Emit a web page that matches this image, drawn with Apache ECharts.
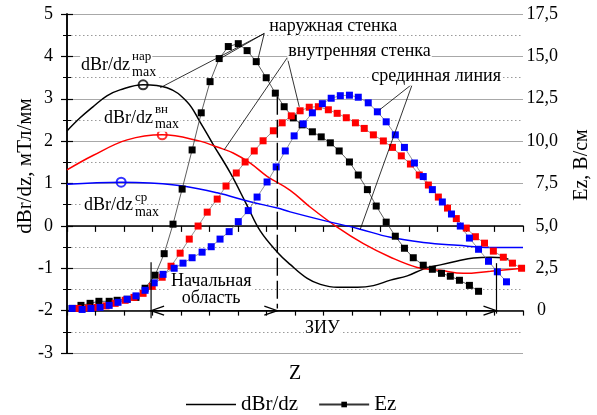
<!DOCTYPE html>
<html>
<head>
<meta charset="utf-8">
<script src="https://cdn.jsdelivr.net/npm/echarts/dist/echarts.min.js"></script>
<style>
  html, body { margin: 0; padding: 0; background: #fff; }
  #main { width: 597px; height: 415px; }
</style>
</head>
<body>
<div id="main"></div>
<script>
// Axis ranges and tick labels
const zRange = [0, 16];
const gradRange = [-3, 5];      // dBr/dz, мТл/мм
const fieldRange = [-2.5, 17.5]; // Ez, В/см

// dBr/dz curves (left axis): z positions and values
const outerCurveZ = [0, 0.46, 0.91, 1.40, 1.86, 2.67, 3.51, 4.21, 4.67, 5.13, 5.73, 6.32, 6.78, 7.38, 7.83, 8.43, 8.89, 9.48, 10.19, 10.75, 11.35, 11.94, 12.50, 13.10, 13.70, 14.26, 14.86, 15.31, 15.49];
const outerCurveV = [2.24, 2.55, 2.81, 3.07, 3.21, 3.33, 3.26, 2.93, 2.45, 1.92, 1.25, 0.48, -0.12, -0.62, -0.91, -1.24, -1.38, -1.45, -1.45, -1.41, -1.28, -1.18, -1.02, -0.92, -0.83, -0.76, -0.74, -0.75, -0.79];

const innerCurveZ = [0, 0.91, 2.11, 3.34, 4.67, 5.27, 5.83, 6.43, 7.02, 7.83, 8.54, 9.48, 10.40, 11.35, 12.29, 13.10, 13.91, 14.86, 16.0];
const innerCurveV = [1.32, 1.66, 2.03, 2.15, 2.00, 1.86, 1.72, 1.48, 1.17, 0.84, 0.44, -0.03, -0.42, -0.74, -0.98, -1.05, -1.12, -1.07, -1.00];

const midCurveZ = [0, 1.90, 2.92, 4.07, 5.27, 6.43, 7.38, 7.83, 8.99, 10.19, 11.35, 12.50, 13.70, 14.86, 16.0];
const midCurveV = [0.98, 1.03, 1.01, 0.94, 0.78, 0.57, 0.42, 0.33, 0.13, -0.06, -0.27, -0.39, -0.46, -0.51, -0.51];

// Maxima of dBr/dz (outer, inner, middle)
const peakZ = [2.67, 3.34, 1.90];
const peakV = [3.33, 2.15, 1.03];

// Ez measurements (right axis)
const outerEzZ = [0.18, 0.49, 0.81, 1.12, 1.48, 1.76, 2.11, 2.42, 2.74, 3.09, 3.41, 3.72, 4.04, 4.39, 4.71, 5.02, 5.34, 5.66, 6.01, 6.32, 6.64, 6.99, 7.31, 7.62, 7.94, 8.25, 8.61, 8.92, 9.24, 9.55, 9.91, 10.22, 10.54, 10.85, 11.20, 11.52, 11.84, 12.15, 12.50, 12.82, 13.14, 13.45, 13.77, 14.12, 14.44];
const outerEzV = [0.13, 0.31, 0.43, 0.55, 0.55, 0.61, 0.67, 0.78, 1.32, 2.09, 3.36, 5.10, 7.17, 9.48, 11.67, 13.51, 14.87, 15.58, 15.75, 15.34, 14.69, 13.74, 12.83, 12.03, 11.37, 10.96, 10.55, 10.25, 9.90, 9.42, 8.77, 8.00, 7.14, 6.17, 5.22, 4.39, 3.68, 3.12, 2.68, 2.44, 2.20, 2.03, 1.79, 1.49, 1.14];

const innerEzZ = [0.39, 0.74, 1.05, 1.37, 1.69, 2.04, 2.35, 2.67, 2.99, 3.34, 3.65, 3.97, 4.29, 4.60, 4.92, 5.27, 5.58, 5.94, 6.25, 6.57, 6.88, 7.24, 7.55, 7.87, 8.18, 8.50, 8.82, 9.17, 9.48, 9.80, 10.12, 10.43, 10.75, 11.10, 11.42, 11.73, 12.05, 12.36, 12.68, 13.03, 13.35, 13.66, 14.01, 14.33, 14.65, 14.96, 15.31, 15.63, 15.95];
const innerEzV = [0.13, 0.16, 0.19, 0.28, 0.43, 0.61, 0.78, 1.02, 1.43, 1.97, 2.62, 3.39, 4.22, 4.99, 5.81, 6.58, 7.35, 8.12, 8.77, 9.42, 10.02, 10.61, 11.08, 11.49, 11.79, 12.00, 12.03, 11.85, 11.64, 11.38, 11.08, 10.75, 10.37, 10.01, 9.63, 9.13, 8.65, 8.00, 7.41, 6.70, 6.05, 5.43, 4.87, 4.36, 3.98, 3.51, 3.15, 2.80, 2.50];

const midEzZ = [0.18, 0.53, 0.84, 1.16, 1.48, 1.79, 2.11, 2.42, 2.74, 3.06, 3.37, 3.76, 4.07, 4.39, 4.74, 5.06, 5.37, 5.69, 6.01, 6.36, 6.67, 7.02, 7.34, 7.66, 7.97, 8.29, 8.61, 8.96, 9.27, 9.59, 9.91, 10.22, 10.57, 10.89, 11.20, 11.52, 11.84, 12.19, 12.50, 12.82, 13.17, 13.49, 13.80, 14.12, 14.44, 14.79, 15.10, 15.42];
const midEzV = [0.13, 0.07, 0.13, 0.19, 0.31, 0.49, 0.67, 0.87, 1.20, 1.64, 2.14, 2.50, 2.80, 3.12, 3.45, 3.77, 4.22, 4.66, 5.25, 5.90, 6.70, 7.59, 8.48, 9.42, 10.31, 11.02, 11.67, 12.21, 12.53, 12.68, 12.71, 12.59, 12.26, 11.73, 11.14, 10.37, 9.63, 8.71, 7.91, 7.14, 6.41, 5.70, 4.99, 4.28, 3.62, 2.91, 2.29, 1.70];

// Region boundaries along z: start of the initial region, its end, end of the ЗИУ
const regionZ = [2.95, 7.38, 15.07];

const serif = '"Liberation Serif", "Times New Roman", serif';
const zip = (zs, vs) => zs.map((z, i) => [z, vs[i]]);

const curve = (name, zs, vs, color) => ({
  name, type: 'line', xAxisIndex: 0, yAxisIndex: 0,
  data: zip(zs, vs), smooth: 0.4, symbol: 'none', z: 3,
  lineStyle: { color, width: 1.5 }, itemStyle: { color }
});
const points = (name, zs, vs, color, lineColor) => ({
  name, type: 'line', xAxisIndex: 0, yAxisIndex: 1,
  data: zip(zs, vs), symbol: 'rect', symbolSize: 7, z: 4,
  lineStyle: { color: lineColor, width: 0.8 }, itemStyle: { color }
});

const option = {
  animation: false,
  backgroundColor: '#fff',
  grid: { left: 67, right: 74, top: 14, bottom: 62 },
  legend: {
    data: [{ name: 'dBr/dz', icon: 'path://M0,0L50,0L50,1.6L0,1.6Z' }, 'Ez'],
    left: 181, top: 389,
    itemWidth: 50, itemHeight: 7, itemGap: 20,
    textStyle: { fontFamily: serif, fontSize: 21, color: '#000' }
  },
  xAxis: [{
    type: 'value', position: 'bottom', min: zRange[0], max: zRange[1], interval: 1,
    name: 'Z', nameLocation: 'middle', nameGap: 11,
    nameTextStyle: { fontFamily: serif, fontSize: 20, color: '#000' },
    axisLine: { show: true, lineStyle: { color: '#000', width: 1.5 } },
    axisTick: { show: true, inside: false, length: 6, lineStyle: { color: '#000', width: 1.2 } },
    axisLabel: { show: false }, splitLine: { show: false }
  }, {
    type: 'value', position: 'top', min: zRange[0], max: zRange[1], interval: 1,
    axisLine: { show: true, lineStyle: { color: '#000', width: 1.5 } },
    axisTick: { show: true, inside: true, length: 5, lineStyle: { color: '#000', width: 1.2 } },
    axisLabel: { show: false }, splitLine: { show: false }
  }],
  yAxis: [{
    type: 'value', position: 'left', min: gradRange[0], max: gradRange[1], interval: 1,
    axisLine: { show: true, lineStyle: { color: '#000', width: 1.5 } },
    axisTick: { show: true, inside: true, length: 6, lineStyle: { color: '#000', width: 1.2 } },
    minorTick: { show: true, splitNumber: 2, length: 4, lineStyle: { color: '#000', width: 1 } },
    axisLabel: { margin: 14, fontFamily: serif, fontSize: 18, color: '#000' },
    splitLine: { show: true, lineStyle: { color: '#a8a8a8', width: 1.2 } },
    minorSplitLine: { show: true, lineStyle: { color: '#9a9a9a', width: 1, type: [1.5, 2.5] } }
  }, {
    type: 'value', position: 'right', min: fieldRange[0], max: fieldRange[1], interval: 2.5,
    axisLine: { show: true, lineStyle: { color: '#000', width: 1.5 } },
    axisTick: { show: true, inside: true, length: 6, lineStyle: { color: '#000', width: 1.2 } },
    minorTick: { show: true, splitNumber: 2, length: 4, lineStyle: { color: '#000', width: 1 } },
    axisLabel: {
      margin: 35, align: 'right', fontFamily: serif, fontSize: 18, color: '#000',
      formatter: v => v < 0 ? '' : (v === 0 ? '{z|0}' : v.toFixed(1).replace('.', ',')),
      rich: { z: { fontFamily: serif, fontSize: 18, color: '#000', padding: [0, 12, 0, 0] } }
    },
    splitLine: { show: false }
  }],
  series: [
    curve('dBr/dz', outerCurveZ, outerCurveV, '#000'),
    curve('dBr/dz внутр.', innerCurveZ, innerCurveV, '#ff0000'),
    curve('dBr/dz сред.', midCurveZ, midCurveV, '#0000ff'),
    points('Ez', outerEzZ, outerEzV, '#000', '#333'),
    points('Ez внутр.', innerEzZ, innerEzV, '#ff0000', '#777'),
    points('Ez сред.', midEzZ, midEzV, '#0000ff', '#777'),
    {
      name: 'max', type: 'scatter', xAxisIndex: 0, yAxisIndex: 0, z: 5,
      symbol: 'circle', symbolSize: 9,
      data: zip(peakZ, peakV).map((p, i) => ({
        value: p,
        itemStyle: { color: 'rgba(255,255,255,0)', borderColor: ['#000', '#ff0000', '#0000ff'][i], borderWidth: 2 }
      }))
    }
  ]
};

const chart = echarts.init(document.getElementById('main'));
chart.setOption(option);

// Annotations placed in data coordinates of the left axis
const P = (z, v) => chart.convertToPixel({ xAxisIndex: 0, yAxisIndex: 0 }, [z, v]);
const g = [];

function seg(a, b, width, dash) {
  const p = P(a[0], a[1]), q = P(b[0], b[1]);
  g.push({ type: 'line', z: 50, shape: { x1: p[0], y1: p[1], x2: q[0], y2: q[1] },
           style: { stroke: '#000', lineWidth: width || 0.8, lineDash: dash || null } });
}
function arrowHead(at, dir) {
  const p = P(at[0], at[1]);
  g.push({ type: 'polyline', z: 51,
           shape: { points: [[p[0] - dir * 13, p[1] - 4.5], [p[0], p[1]], [p[0] - dir * 13, p[1] + 4.5]] },
           style: { stroke: '#000', fill: null, lineWidth: 1.3 } });
}
function text(at, str, size, opts) {
  opts = opts || {};
  const p = P(at[0], at[1]);
  g.push({ type: 'text', z: 60, x: p[0] + (opts.dx || 0), y: p[1] + (opts.dy || 0),
           style: { text: str, font: size + 'px ' + serif, fill: '#000',
                    align: opts.align || 'left', verticalAlign: 'middle',
                    backgroundColor: '#fff', padding: [0, 1], lineHeight: opts.lh } });
}

// Leader lines from the captions to the curves and point series
const leaders = [
  { from: [6.92, 4.54], to: [[3.27, 3.26], [5.30, 3.92], [6.67, 3.85]] },
  { from: [7.73, 3.97], to: [[5.51, 1.79], [8.15, 2.81]] },
  { from: [12.12, 3.35], to: [[10.97, 2.74], [10.29, -0.08]] }
];
leaders.forEach(l => l.to.forEach(t => seg(l.from, t)));

// Region markers: vertical bounds and the arrow along z
seg([regionZ[0], -0.86], [regionZ[0], -2.18], 1.2);
seg([regionZ[1], 3.05], [regionZ[1], -1.95], 1.4, [18, 5]);
seg([regionZ[2], -0.88], [regionZ[2], -2.07], 1.2);
seg([regionZ[0], -2], [regionZ[2], -2], 1.4);
arrowHead([regionZ[0], -2], -1);
arrowHead([regionZ[1], -2], 1);
arrowHead([regionZ[2], -2], 1);

// Captions
text([7.06, 4.71], 'наружная стенка', 18);
text([7.73, 4.11], 'внутренняя стенка', 18);
text([10.64, 3.52], 'срединная линия', 18);
text([5.06, -1.51], 'Начальная\nобласть', 18, { align: 'center', lh: 17 });
text([8.96, -2.42], 'ЗИУ', 18, { align: 'center' });

// dBr/dz max labels with super- and subscripts
const maxLabels = [
  { at: [0.46, 3.80], sup: 'нар' },
  { at: [1.26, 2.55], sup: 'вн' },
  { at: [0.56, 0.49], sup: 'ср' }
];
maxLabels.forEach(m => {
  text(m.at, 'dBr/dz', 18);
  text(m.at, m.sup, 13, { dx: 51, dy: -8 });
  text(m.at, 'max', 14, { dx: 51, dy: 7 });
});

// Axis titles
g.push({ type: 'text', z: 60, x: 25, y: 166, rotation: Math.PI / 2,
         style: { text: 'dBr/dz, мТл/мм', font: '21px ' + serif, fill: '#000', align: 'center', verticalAlign: 'middle' } });
g.push({ type: 'text', z: 60, x: 582, y: 165, rotation: Math.PI / 2,
         style: { text: 'Ez, В/см', font: '20px ' + serif, fill: '#000', align: 'center', verticalAlign: 'middle' } });

chart.setOption({ graphic: g });
</script>
</body>
</html>
